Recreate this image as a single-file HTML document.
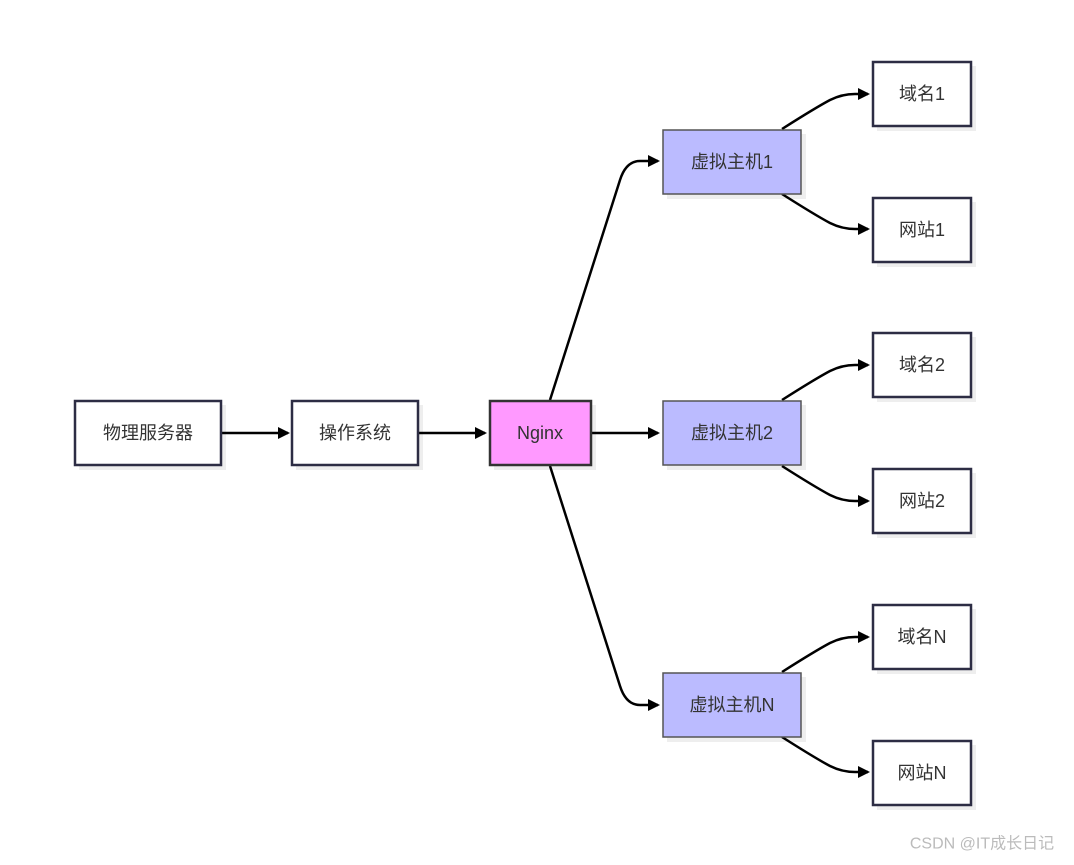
<!DOCTYPE html>
<html><head><meta charset="utf-8"><style>
html,body{margin:0;padding:0;background:#fff;}
text{font-family:"Liberation Sans","Noto Sans CJK SC",sans-serif;font-size:18px;fill:#333;text-anchor:middle;dominant-baseline:central;}
</style></head><body>
<svg width="1074" height="860" viewBox="0 0 1074 860" xmlns="http://www.w3.org/2000/svg">
<defs>
<marker id="a" markerWidth="12" markerHeight="12" refX="10" refY="6" orient="auto" markerUnits="userSpaceOnUse">
<path d="M0,0 L12,6 L0,12 z" fill="#000"/></marker>
</defs>
<g fill="#eee">
<rect x="79" y="405" width="147" height="65"/>
<rect x="296" y="405" width="127" height="65"/>
<rect x="494" y="405" width="102" height="65"/>
<rect x="667" y="134" width="139" height="65"/>
<rect x="667" y="405" width="139" height="65"/>
<rect x="667" y="677" width="139" height="65"/>
<rect x="877" y="66" width="99" height="65"/>
<rect x="877" y="202" width="99" height="65"/>
<rect x="877" y="337" width="99" height="65"/>
<rect x="877" y="473" width="99" height="65"/>
<rect x="877" y="609" width="99" height="65"/>
<rect x="877" y="745" width="99" height="65"/>
</g>
<g stroke="#000" stroke-width="2.5" fill="none" marker-end="url(#a)">
<path d="M221,433 L288,433"/>
<path d="M418,433 L485,433"/>
<path d="M591,433 L658,433"/>
<path d="M550,400 L620,180 Q626,161 640,161 L658,161"/>
<path d="M550,466 L620,686 Q626,705 640,705 L658,705"/>
<path d="M782,129 Q815,108 830,100 Q842,94 855,94 L868,94"/>
<path d="M782,194 Q815,215 830,223 Q842,229 855,229 L868,229"/>
<path d="M782,400 Q815,379 830,371 Q842,365 855,365 L868,365"/>
<path d="M782,466 Q815,487 830,495 Q842,501 855,501 L868,501"/>
<path d="M782,672 Q815,651 830,643 Q842,637 855,637 L868,637"/>
<path d="M782,737 Q815,758 830,766 Q842,772 855,772 L868,772"/>
</g>
<g stroke="#2d2d44" stroke-width="2.5" fill="#fff">
<rect x="75" y="401" width="146" height="64"/>
<rect x="292" y="401" width="126" height="64"/>
<rect x="873" y="62" width="98" height="64"/>
<rect x="873" y="198" width="98" height="64"/>
<rect x="873" y="333" width="98" height="64"/>
<rect x="873" y="469" width="98" height="64"/>
<rect x="873" y="605" width="98" height="64"/>
<rect x="873" y="741" width="98" height="64"/>
</g>
<rect x="490" y="401" width="101" height="64" fill="#ff99ff" stroke="#333" stroke-width="2.5"/>
<g fill="#bbbbff" stroke="#555" stroke-width="1.5">
<rect x="663" y="130" width="138" height="64"/>
<rect x="663" y="401" width="138" height="64"/>
<rect x="663" y="673" width="138" height="64"/>
</g>
<text x="148" y="433">物理服务器</text>
<text x="355" y="433">操作系统</text>
<text x="540" y="433">Nginx</text>
<text x="732" y="162">虚拟主机1</text>
<text x="732" y="433">虚拟主机2</text>
<text x="732" y="705">虚拟主机N</text>
<text x="922" y="94">域名1</text>
<text x="922" y="230">网站1</text>
<text x="922" y="365">域名2</text>
<text x="922" y="501">网站2</text>
<text x="922" y="637">域名N</text>
<text x="922" y="773">网站N</text>
<text x="982" y="844" style="font-size:16px;fill:#bbb">CSDN @IT成长日记</text>
</svg>
</body></html>
